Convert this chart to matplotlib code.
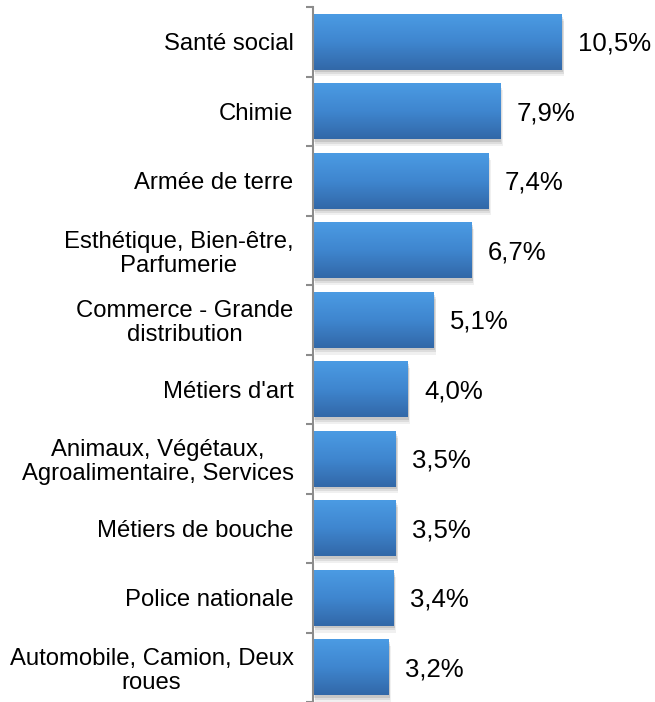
import numpy as np
import matplotlib
matplotlib.use("Agg")
import matplotlib.pyplot as plt
from matplotlib.patches import Rectangle

plt.rcParams['font.family'] = ['Liberation Sans', 'DejaVu Sans']

categories = [
    'Santé social', 'Chimie', 'Armée de terre',
    'Esthétique, Bien-être,\nParfumerie', 'Commerce - Grande\ndistribution',
    "Métiers d'art", 'Animaux, Végétaux,\nAgroalimentaire, Services',
    'Métiers de bouche', 'Police nationale',
    'Automobile, Camion, Deux\nroues'
]
values = [10.5, 7.9, 7.4, 6.7, 5.1, 4.0, 3.5, 3.5, 3.4, 3.2]
value_labels = ['10,5%', '7,9%', '7,4%', '6,7%', '5,1%', '4,0%', '3,5%', '3,5%', '3,4%', '3,2%']

fig = plt.figure(figsize=(6.55, 7.02), dpi=100)
ax = fig.add_axes([313 / 655, 0.0, 342 / 655, 695 / 702])

n = len(categories)
ypos = np.arange(n)
bar_h = 0.8

# vertical gradient for bars (light top, darker bottom)
grad = np.linspace(0, 1, 100).reshape(-1, 1)
cmap = matplotlib.colors.LinearSegmentedColormap.from_list(
    'barblue', ['#4b9be3', '#3f86cf', '#3268a8'])

for y, v in zip(ypos, values):
    # soft shadow
    for k, a in [(0.10, 0.06), (0.07, 0.08), (0.04, 0.10)]:
        ax.add_patch(Rectangle((k, y - bar_h / 2 + k), v, bar_h,
                               facecolor='#000000', alpha=a, edgecolor='none', zorder=1))
    bar = Rectangle((0, y - bar_h / 2), v, bar_h, facecolor='none', edgecolor='none', zorder=2)
    ax.add_patch(bar)
    im = ax.imshow(grad, cmap=cmap, aspect='auto', zorder=2,
                   extent=(0, v, y + bar_h / 2, y - bar_h / 2))
    im.set_clip_path(bar)

for y, v, lab in zip(ypos, values, value_labels):
    ax.text(v + 0.68, y + 0.03, lab, va='center', ha='left', fontsize=18.5, color='black')

ax.set_xlim(0, 342 / 23.7)
ax.set_ylim(n - 0.5, -0.5)

ax.set_yticks(ypos)
ax.set_yticklabels(categories, fontsize=17.2, linespacing=1.12)
for t in ax.get_yticklabels():
    t.set_multialignment('center')
ax.tick_params(axis='y', which='major', length=0, pad=14)
ax.set_yticks(np.arange(-0.5, n, 1), minor=True)
ax.tick_params(axis='y', which='minor', length=5, width=1.5, color='#8c8c8c')
ax.set_xticks([])

for s in ['top', 'right', 'bottom']:
    ax.spines[s].set_visible(False)
ax.spines['left'].set_color('#8c8c8c')
ax.spines['left'].set_linewidth(1.5)

fig.savefig('out.png', dpi=100)
